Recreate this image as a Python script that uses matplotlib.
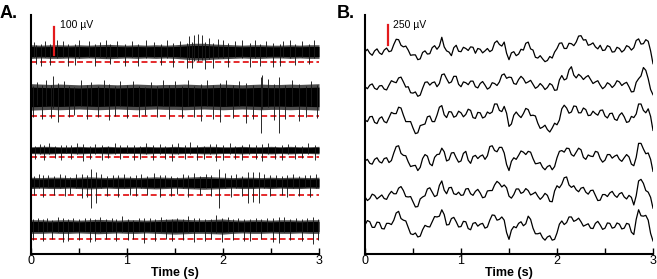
import numpy as np
import matplotlib
matplotlib.use("Agg")
import matplotlib.pyplot as plt
from matplotlib.ticker import MultipleLocator

plt.rcParams['font.family'] = ['Liberation Sans', 'DejaVu Sans']

RED = '#e31a1c'

# ---------------- panel A: high-pass traces (uV) ----------------
# band half-width every 0.1 s
env1 = [18, 17, 18, 18, 17, 18, 17, 18, 19, 18, 17, 18, 17, 18, 17, 18, 20, 22, 22, 20, 19, 18, 17, 18, 18, 17, 17, 18, 17, 18, 18]
env2 = [35, 34, 33, 34, 33, 32, 33, 34, 33, 32, 33, 34, 33, 32, 33, 33, 34, 33, 32, 33, 34, 33, 32, 33, 34, 33, 33, 34, 33, 34, 35]
env3 = [9, 10, 10, 9, 9, 10, 9, 9, 10, 9, 9, 9, 10, 9, 9, 10, 9, 9, 10, 10, 9, 9, 10, 9, 9, 10, 9, 10, 9, 9, 10]
env4 = [15, 14, 15, 15, 14, 15, 16, 15, 14, 15, 15, 14, 15, 16, 15, 14, 15, 16, 17, 16, 15, 14, 15, 15, 14, 15, 14, 15, 15, 14, 15]
env5 = [18, 18, 17, 18, 18, 17, 18, 19, 18, 17, 18, 18, 17, 18, 19, 20, 19, 18, 18, 19, 20, 18, 17, 18, 18, 17, 18, 18, 17, 18, 18]

# spikes sticking out of the band: time (s) and tip (uV)
spk1_t = [0.03, 0.05, 0.10, 0.15, 0.20, 0.27, 0.33, 0.39, 0.46, 0.50, 0.60, 0.67, 0.72, 0.78, 0.82, 0.90, 0.98, 1.05, 1.11, 1.20,
          1.28, 1.35, 1.42, 1.48, 1.55, 1.63, 1.65, 1.68, 1.70, 1.74, 1.78, 1.81, 1.85, 1.90, 1.95, 2.00, 2.05, 2.12, 2.20, 2.28,
          2.33, 2.39, 2.45, 2.52, 2.59, 2.62, 2.70, 2.75, 2.82, 2.90, 2.95]
spk1_v = [35, -45, -50, 38, -48, 40, 36, -52, -48, 42, 38, -50, 34, 40, -46, 38, -50, 36, -52, 40,
          34, -48, 42, -55, 38, -58, 55, -60, 60, 62, 58, -62, 50, -58, 45, 40, -55, 38, 42, -56,
          40, -52, 36, -54, -50, 38, 40, -48, 36, -46, 40]
spk2_t = [0.02, 0.06, 0.11, 0.16, 0.21, 0.23, 0.28, 0.34, 0.40, 0.45, 0.52, 0.58, 0.63, 0.70, 0.76, 0.81, 0.88, 0.93, 1.00, 1.06,
          1.13, 1.19, 1.25, 1.31, 1.38, 1.44, 1.50, 1.57, 1.64, 1.70, 1.77, 1.83, 1.90, 1.97, 2.03, 2.10, 2.17, 2.24, 2.31, 2.40,
          2.47, 2.53, 2.58, 2.65, 2.72, 2.79, 2.86, 2.92, 2.98, 2.41]
spk2_v = [-70, 55, -80, 60, -75, 75, -90, 58, -72, -65, 62, -78, 55, -70, 60, -82, -68, 56, -75, 58,
          -70, -66, 55, -72, 60, -80, 58, -74, 62, -70, -85, 60, -78, -88, 62, -76, 58, -92, -80, -128,
          65, -84, -128, -78, 60, -86, -70, 58, -75, 80]
spk3_t = [0.04, 0.09, 0.14, 0.19, 0.25, 0.31, 0.36, 0.42, 0.48, 0.54, 0.61, 0.67, 0.74, 0.80, 0.87, 0.93, 1.00, 1.07, 1.14, 1.20,
          1.27, 1.34, 1.40, 1.47, 1.53, 1.60, 1.66, 1.73, 1.80, 1.86, 1.93, 2.00, 2.07, 2.13, 2.20, 2.27, 2.34, 2.41, 2.47, 2.54,
          2.61, 2.68, 2.75, 2.82, 2.89, 2.96]
spk3_v = [-30, 22, -34, 25, -28, -36, 20, -32, 24, -38, -30, 22, -34, -28, 24, -32, 20, -36, -30, 26,
          -34, 22, -30, -38, 24, -32, 28, -36, -30, 22, -40, -34, 24, -30, -36, 22, -32, -38, 24, -30,
          -34, 22, -32, -28, 24, -36]
spk4_t = [0.03, 0.08, 0.13, 0.18, 0.24, 0.30, 0.35, 0.41, 0.47, 0.53, 0.58, 0.625, 0.68, 0.73, 0.79, 0.85, 0.91, 0.97, 1.03, 1.09,
          1.15, 1.21, 1.28, 1.34, 1.40, 1.46, 1.52, 1.58, 1.64, 1.70, 1.76, 1.82, 1.88, 1.96, 2.02, 2.08, 2.14, 2.20, 2.26, 2.31,
          2.37, 2.43, 2.49, 2.55, 2.61, 2.67, 2.73, 2.79, 2.85, 2.91, 2.97]
spk4_v = [-45, 30, -50, 28, -42, 32, -48, -40, 30, -55, -50, -90, -72, 30, -46, 28, -50, 32, -44, -48,
          30, -42, 34, -50, 28, -46, -40, 30, -52, 36, -44, 32, -48, -89, 34, -50, 30, -46, -71, -70,
          -72, 30, -48, 28, -44, -50, 30, -46, 28, -52, 30]
spk5_t = [0.02, 0.07, 0.12, 0.17, 0.22, 0.28, 0.33, 0.39, 0.44, 0.50, 0.56, 0.61, 0.67, 0.72, 0.78, 0.84, 0.89, 0.95, 1.01, 1.06,
          1.12, 1.18, 1.24, 1.29, 1.35, 1.41, 1.47, 1.52, 1.58, 1.64, 1.70, 1.75, 1.81, 1.87, 1.93, 1.99, 2.05, 2.10, 2.16, 2.22,
          2.28, 2.34, 2.40, 2.46, 2.52, 2.58, 2.64, 2.70, 2.76, 2.82, 2.88, 2.94, 2.99]
spk5_v = [-48, 32, -52, 30, -45, 34, -56, -50, 32, -48, 30, -55, -50, 34, -46, 30, -52, 36, -48, -44,
          32, -58, 30, -50, 34, -46, -52, 30, -48, 36, -55, 32, -50, -46, 40, -56, 34, -48, 30, -52,
          -50, 32, -46, 30, -54, -60, 34, -48, 30, -52, 32, -62, -48]

# detection thresholds relative to each trace (uV)
thresh_a = [-39, -68, -24, -43, -43]

# ---------------- panel B: LFP traces (uV), every 0.025 s ----------------
lfp1 = [0, 30, -20, -45, 10, 35, -15, -35, 20, 45,
        0, 10, 90, 155, 150, 80, 60, 70, 20, -45,
        -40, -40, -100, -90, -10, 10, -30, -25, 50, 75,
        30, 70, 180, 60, 10, -5, -50, 50, 80, 5,
        0, 55, 40, 15, 60, 55, -20, 40, 30, -15,
        10, 40, 0, 20, 110, 135, 90, 70, 120, -20,
        -100, -15, 0, -50, -30, 30, 20, 105, 120, 35,
        20, -70, -80, -50, -90, -125, -110, -60, -80, -5,
        40, 105, 110, 40, 40, 105, 100, 75, 120, 195,
        200, 145, 150, 80, 90, 110, 60, 35, 80, 15,
        20, 75, 60, -5, 0, 55, 40, -5, 20, 75,
        60, 20, 50, 140, 160, 95, 100, 150, 130, 10, -150]
lfp2 = [0, -25, 20, 35, -20, -35, 10, 15, -30, -40,
        20, 75, 60, 50, 110, 120, 60, -5, 0, -75,
        -80, -65, -120, -105, -20, 55, 60, 20, 50, 60,
        0, 40, 150, 160, 100, 45, 60, 130, 130, 30,
        0, 60, 50, 25, 70, 70, 0, -15, 40, 65,
        20, -30, -10, 50, 40, 15, 60, 145, 160, 105,
        120, 115, 40, 30, 90, 130, 100, 45, 60, 80,
        30, -20, 0, 40, 10, -35, -10, 40, 20, -45,
        -40, 85, 140, 85, 100, 210, 250, 145, 110, 155,
        130, 90, 120, 140, 90, 40, 60, 75, 20, -25,
        0, 50, 30, -10, 20, 75, 60, 15, 40, 55,
        0, -65, -60, 55, 100, 135, 240, 205, 100, -35, -100]
lfp3 = [0, -20, 40, 45, -30, -45, 20, 40, -20, -35,
        30, 95, 80, 80, 160, 150, 60, -20, -20, -20,
        -100, -170, -160, -70, -60, -50, 40, 50, -20, -20,
        60, 160, 180, 65, 30, 105, 100, 35, 50, 110,
        90, 40, 70, 135, 120, 30, 20, 95, 90, 25,
        40, 100, 80, 100, 200, 200, 120, 105, 170, 85,
        -80, -50, 60, 100, 60, 30, 80, 145, 130, 55,
        60, 50, -40, -105, -90, -65, -120, -150, -100, -40,
        -60, 0, 140, 185, 150, 85, 100, 175, 170, 90,
        90, 150, 130, 55, 60, 110, 80, 60, 120, 125,
        50, 25, 80, 85, 10, -5, 60, 90, 40, -30,
        -20, 45, 30, 75, 200, 200, 120, 90, 140, 45, -130]
lfp4 = [0, 20, -30, -40, 20, 40, -10, -25, 30, 40,
        -20, 5, 100, 180, 190, 95, 70, 65, -10, -70,
        -60, -55, -120, -80, 30, 80, 60, -35, -60, 45,
        80, 85, 160, 115, 0, 15, 100, 105, 40, -15,
        0, 95, 120, 10, -30, 55, 70, 30, 60, 75,
        20, 65, 180, 190, 130, 115, 170, 170, 100, -45,
        -120, -5, 40, 20, 70, 125, 110, 80, 120, 110,
        30, -35, -30, -20, -80, -110, -70, -55, -110, -70,
        40, 120, 130, 110, 160, 155, 80, 60, 110, 160,
        140, 45, 20, 75, 60, 55, 120, 110, 30, -15,
        10, 80, 80, 35, 60, 75, 20, -5, 40, 80,
        50, -40, -60, 45, 220, 220, 150, 90, 100, 20, -130]
lfp5 = [0, -45, -20, 35, 20, -25, 0, 25, -20, -30,
        30, 70, 40, 40, 110, 130, 80, 5, 0, 5,
        -60, -125, -120, -25, 0, 15, 100, 115, 60, 5,
        20, 145, 200, 85, 40, 115, 120, 40, 30, 60,
        20, 25, 100, 105, 40, 20, 70, 95, 50, -10,
        0, 75, 80, 80, 150, 195, 170, 125, 150, 115,
        10, -15, 30, 100, 100, 45, 60, 105, 80, 25,
        40, 60, 10, -30, 0, 45, 20, -55, -60, 75,
        140, 115, 160, 240, 250, 150, 120, 140, 90, 65,
        110, 120, 60, 35, 80, 85, 20, -45, -40, 30,
        30, 5, 50, 70, 20, -5, 40, 55, 0, -25,
        20, -5, -100, 15, 200, 220, 170, 80, 60, -5, -140]
lfp6 = [0, 55, 40, -30, -30, 35, 30, -45, -50, 20,
        20, 5, 60, 150, 170, 80, 60, 50, -30, -110,
        -120, -100, -150, -140, -60, -5, -20, -25, 40, 105,
        100, 110, 190, 130, 0, 5, 80, 95, 40, -25,
        -20, 45, 40, -45, -60, 20, 30, -15, 10, 20,
        -40, -25, 60, 125, 120, 60, 70, 100, 60, -95,
        -180, -65, -20, -35, 20, 40, -10, 15, 110, 70,
        -40, -110, -110, -100, -160, -190, -150, -135, -190, -180,
        -100, 10, 50, 5, 30, 100, 100, 45, 60, 85,
        40, -15, 0, 15, -40, -45, 20, 45, 0, -55,
        -40, 25, 20, -40, -30, 25, 10, -50, -40, 20,
        10, -90, -120, 70, 190, 115, 110, 120, 60, -105, -200]

time_ticks = [0, 1, 2, 3]

# ---------------- figure ----------------
W, H = 657, 279
fig = plt.figure(figsize=(W / 100, H / 100), dpi=100)
axA = fig.add_axes([31 / W, 25 / H, 288 / W, 239 / H])
axB = fig.add_axes([365 / W, 25 / H, 288 / W, 239 / H])

# panel A: 100 uV = 28 px
axA.set_ylim(0, 239 * 100 / 28)
base_a = [723, 561, 371, 254, 98]
t_env = np.linspace(0, 3, 31)
envs = [env1, env2, env3, env4, env5]
spikes = [(spk1_t, spk1_v), (spk2_t, spk2_v), (spk3_t, spk3_v), (spk4_t, spk4_v), (spk5_t, spk5_v)]
for b, env, (st, sv), th in zip(base_a, envs, spikes, thresh_a):
    env = np.array(env)
    sv = np.array(sv)
    axA.fill_between(t_env, b - 1.35 * env, b + 1.35 * env, color='0.3', lw=0, zorder=1)
    axA.fill_between(t_env, b - env, b + env, color='black', lw=0, zorder=1.2)
    axA.plot([0, 3], [b + th, b + th], color=RED, lw=1.3, ls=(0, (3.3, 1.8)), zorder=1.5)
    # biphasic spikes: main deflection plus smaller opposite one
    axA.vlines(st, b - 0.55 * sv, b + sv, color='0.1', lw=0.65, zorder=2)

axA.plot([0.24, 0.24], [711, 811], color=RED, lw=1.6, zorder=3)
fig.text(60 / W, 1 - 28 / H, '100 \u00b5V', fontsize=7.5, va='baseline', ha='left')

# panel B: 250 uV = 20 px
axB.set_ylim(0, 239 * 12.5)
base_b = [2529, 2091, 1675, 1163, 713, 363]
t_lfp = np.linspace(0, 3, 121)
for b, tr in zip(base_b, [lfp1, lfp2, lfp3, lfp4, lfp5, lfp6]):
    axB.plot(t_lfp, b + np.array(tr), color='black', lw=0.9)

axB.plot([0.24, 0.24], [2613, 2863], color=RED, lw=1.6, zorder=3)
fig.text(393 / W, 1 - 28 / H, '250 \u00b5V', fontsize=7.5, va='baseline', ha='left')

for ax in (axA, axB):
    ax.set_xlim(0, 3)
    ax.spines['top'].set_visible(False)
    ax.spines['right'].set_visible(False)
    ax.spines['left'].set_linewidth(1.5)
    ax.spines['bottom'].set_linewidth(1.5)
    ax.set_yticks([])
    ax.set_xticks(time_ticks)
    ax.set_xticklabels([str(v) for v in time_ticks])
    ax.xaxis.set_minor_locator(MultipleLocator(0.5))
    ax.tick_params(axis='x', which='both', direction='in', length=4, width=1, labelsize=9, pad=1)
    ax.set_xlabel('Time (s)', fontsize=9, fontweight='bold', labelpad=0)
    ax.patch.set_visible(False)

fig.text(0 / W, 1 - 18 / H, 'A.', fontsize=13, fontweight='bold', va='baseline', ha='left')
fig.text(337 / W, 1 - 18 / H, 'B.', fontsize=13, fontweight='bold', va='baseline', ha='left')

fig.savefig('out.png', dpi=100)
